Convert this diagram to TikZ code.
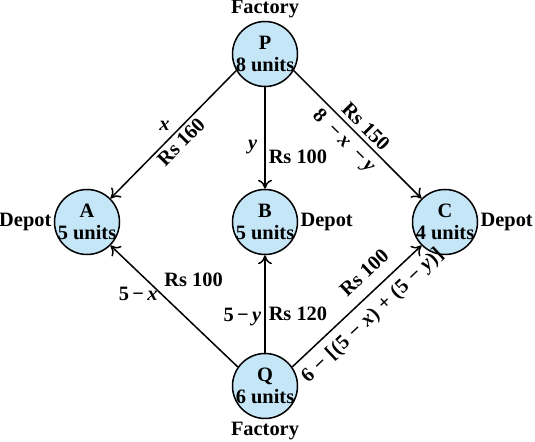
\documentclass[tikz,border=0pt]{standalone}
\usepackage{fontspec}
\setmainfont{Liberation Serif}
\usetikzlibrary{arrows.meta}
\definecolor{siteblue}{RGB}{197,230,246}
\tikzset{
  site/.style={circle, draw, line width=0.75pt, fill=siteblue, minimum size=32.5pt, inner sep=0pt},
  tag/.style={inner sep=1pt},
  lab/.style={inner sep=1.5pt},
  flow/.style={-{To[length=4.5pt,width=7pt]}, line width=0.75pt},
}

\begin{document}
\begin{tikzpicture}[x=0.5pt, y=-0.5pt, font=\bfseries\fontsize{10.2}{11}\selectfont]
\useasboundingbox (0,0) rectangle (535,442);
% factories and depots
\node[site, label={[tag]above:Factory}] (P) at (265,54) {};
\node[site, label={[tag]below:Factory}] (Q) at (265,386) {};
\node[site, label={[tag]left:Depot}] (A) at (87,222) {};
\node[site, label={[tag]right:Depot}] (B) at (265,222) {};
\node[site, label={[tag]right:Depot}] (C) at (445,222) {};
\foreach \n/\u in {P/8,Q/6,A/5,B/5,C/4}
  \node[align=center] (\n txt) at (\n) {\n\\\u{} units};
% routes
\draw[flow] (P.210) -- (A.45) node[lab, pos=.5, sloped, below] (pa) {Rs 160}
  node[lab, pos=.5, above left] (pax) {\textit{x}};
\draw[flow] (P) -- (B) node[lab, pos=.59, left=2pt] (pby) {\textit{y}}
  node[lab, pos=.69, right] (pb) {Rs 100};
\draw[flow] (P.-30) -- (C.135) node[lab, inner sep=2pt, pos=.5, sloped, above] (pc) {Rs 150}
  node[lab, inner sep=2.5pt, pos=.47, sloped, below] (pcx) {8\ \ −\,\textit{x}\ \ −\,\textit{y}};
\draw[flow] (Q.145) -- (A.-45) node[lab, pos=.63, above right, xshift=1.5pt] (qa) {Rs 100}
  node[lab, pos=.6, left] (qax) {5\,−\,\textit{x}};
\draw[flow] (Q) -- (B) node[lab, pos=.40, right] (qb) {Rs 120}
  node[lab, pos=.37, left] (qby) {5\,−\,\textit{y}};
\draw[flow] (Q.35) -- (C.-135) node[lab, inner sep=6pt, pos=.66, sloped, above] (qc) {Rs 100}
  node[lab, inner sep=4pt, pos=.53, sloped, below] (qcx)
  {\addfontfeature{LetterSpace=3}6 − [(5 − \textit{x}) + (5 − \textit{y})]};
\end{tikzpicture}
\end{document}
